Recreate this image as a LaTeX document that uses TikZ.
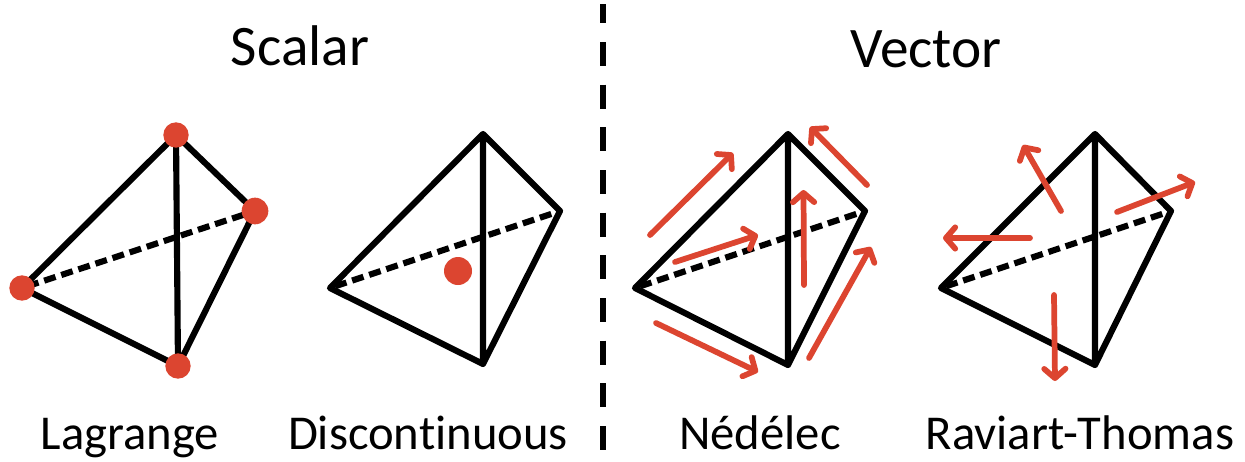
\documentclass[tikz,border=0pt]{standalone}
\usepackage{fontspec}
\setmainfont[Ligatures=NoCommon]{Carlito}
\usetikzlibrary{arrows.meta}
\definecolor{myred}{HTML}{DC4530}
\tikzset{
 edge/.style={line width=4.6pt,black,line cap=round,line join=round},
 hid/.style={line width=4.6pt,black,dash pattern=on 9pt off 4.5pt,dash phase=-4pt},
 sep/.style={line width=4.5pt,black,dash pattern=on 18pt off 14pt,dash phase=3.5pt},
 redarr/.style={line width=4.3pt,draw=myred,line cap=round,-{Straight Barb[length=7pt,width=16pt,line width=4.3pt,round]}},
 dot/.style={circle,fill=myred,inner sep=0pt,minimum size=19pt},
 lab/.style={font=\fontsize{36.5pt}{38pt}\selectfont,anchor=base,inner sep=0pt},
 head/.style={font=\fontsize{43pt}{45pt}\selectfont,anchor=base,inner sep=0pt}
}
\begin{document}
\begin{tikzpicture}[x=0.75pt,y=-0.75pt]
\useasboundingbox (0,0) rectangle (1245,461);
\fill[white] (0,0) rectangle (1245,461);
\coordinate (s1) at (602.5,4); \coordinate (s2) at (602.5,452);
\draw[sep] (s1) -- (s2);
\node[head] (t1) at (300,65) {Scalar};
\node[head] (t2) at (926,67) {Vector};
\node[lab] (l1) at (130,449) {Lagrange};
\node[lab] (l2) at (428,449) {Discontinuous};
\node[lab] (l3) at (760,449) {Nédélec};
\node[lab] (l4) at (1080,449) {Raviart-Thomas};
\coordinate (a1) at (176,135); \coordinate (b1) at (22,288); \coordinate (c1) at (178,366); \coordinate (d1) at (255,211);
\draw[hid] (b1) -- (d1);
\draw[edge] (a1) -- (b1) -- (c1) -- (d1) -- cycle (a1) -- (c1);
\node[dot] (n1) at (a1) {};
\node[dot] (n2) at (b1) {};
\node[dot] (n3) at (c1) {};
\node[dot,minimum size=20pt] (n4) at (d1) {};
\coordinate (a2) at (483,134); \coordinate (b2) at (330,288); \coordinate (c2) at (483,364); \coordinate (d2) at (560,211);
\draw[hid] (b2) -- (d2);
\draw[edge] (a2) -- (b2) -- (c2) -- (d2) -- cycle (a2) -- (c2);
\node[dot,minimum size=21pt] (n5) at (458,271) {};
\coordinate (a3) at (788,134); \coordinate (b3) at (635,288); \coordinate (c3) at (788,365); \coordinate (d3) at (865,211);
\draw[hid] (b3) -- (d3);
\draw[edge] (a3) -- (b3) -- (c3) -- (d3) -- cycle (a3) -- (c3);
\coordinate (p1s) at (650,235); \coordinate (p1e) at (733,153);
\coordinate (p2s) at (675,262); \coordinate (p2e) at (758,235);
\coordinate (p3s) at (804,285); \coordinate (p3e) at (803.5,190);
\coordinate (p4s) at (867,185); \coordinate (p4e) at (810,127);
\coordinate (p5s) at (809,358); \coordinate (p5e) at (871,247);
\coordinate (p6s) at (656,323); \coordinate (p6e) at (758,372);
\foreach \i in {1,...,6} \draw[redarr] (p\i s) -- (p\i e);
\coordinate (a4) at (1095,134); \coordinate (b4) at (941,288); \coordinate (c4) at (1095,365); \coordinate (d4) at (1171,211);
\draw[hid] (b4) -- (d4);
\draw[edge] (a4) -- (b4) -- (c4) -- (d4) -- cycle (a4) -- (c4);
\coordinate (q1s) at (1061,211); \coordinate (q1e) at (1023,145);
\coordinate (q2s) at (1117,212); \coordinate (q2e) at (1195,182);
\coordinate (q3s) at (1030,238); \coordinate (q3e) at (943,238);
\coordinate (q4s) at (1054,295); \coordinate (q4e) at (1055,381);
\foreach \i in {1,...,4} \draw[redarr] (q\i s) -- (q\i e);
\end{tikzpicture}
\end{document}
